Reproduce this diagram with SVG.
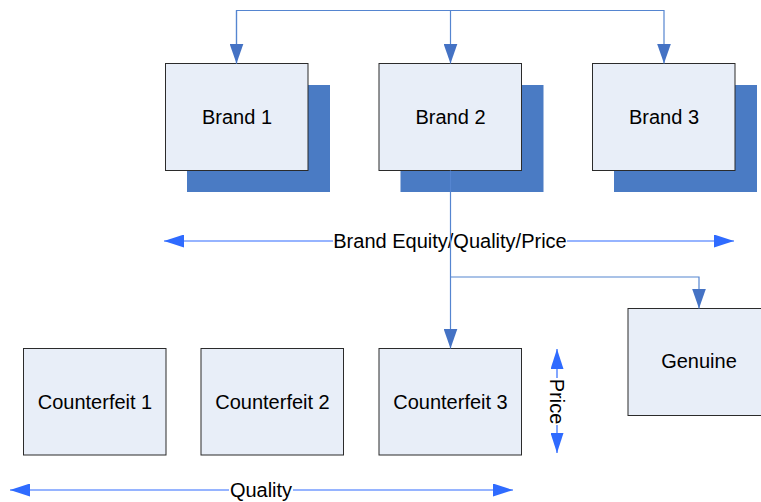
<svg xmlns="http://www.w3.org/2000/svg" width="761" height="502" viewBox="0 0 761 502">
<style>
.box{fill:#E8EEF8;stroke:#2b2b2b;stroke-width:1}
.shadow{fill:#4A7BC4}
.lbl{font-family:"Liberation Sans",Arial,sans-serif;font-size:20px;fill:#000;text-anchor:middle}
.conn{fill:none;stroke:#5585D0;stroke-width:1.2}
.axis{fill:none;stroke:#2F6BFF;stroke-width:1.2}
</style>
<defs>
<marker id="ah" viewBox="0 0 20 14" refX="20" refY="7" markerWidth="20" markerHeight="14" markerUnits="userSpaceOnUse" orient="auto">
<path d="M0,0 L20,7 L0,14 z" fill="#4472C4"/>
</marker>
<marker id="ax" viewBox="0 0 20 13" refX="20" refY="6.5" markerWidth="20" markerHeight="13" markerUnits="userSpaceOnUse" orient="auto-start-reverse">
<path d="M0,0 L20,6.5 L0,13 z" fill="#2F6BFF"/>
</marker>
</defs>
<rect width="761" height="502" fill="#fff"/>
<g id="brand1"><rect class="shadow" x="187" y="85" width="143" height="107"/><rect class="box" x="165.5" y="63.5" width="142.5" height="107"/><text class="lbl" x="237" y="123.5">Brand 1</text></g>
<g id="brand2"><rect class="shadow" x="400.5" y="85" width="143" height="107"/><rect class="box" x="379" y="63.5" width="142.5" height="107"/><text class="lbl" x="450.5" y="123.5">Brand 2</text></g>
<g id="brand3"><rect class="shadow" x="614" y="85" width="143" height="107"/><rect class="box" x="592.5" y="63.5" width="142.5" height="107"/><text class="lbl" x="664" y="123.5">Brand 3</text></g>
<g id="cf1"><rect class="box" x="23.5" y="348.5" width="142.5" height="106.5"/><text class="lbl" x="95" y="408.5">Counterfeit 1</text></g>
<g id="cf2"><rect class="box" x="201" y="348.5" width="142.5" height="106.5"/><text class="lbl" x="272.5" y="408.5">Counterfeit 2</text></g>
<g id="cf3"><rect class="box" x="379" y="348.5" width="142.5" height="106.5"/><text class="lbl" x="450.5" y="408.5">Counterfeit 3</text></g>
<g id="genuine"><rect class="box" x="628" y="308.5" width="143" height="107"/><text class="lbl" x="699" y="367.5">Genuine</text></g>
<g id="axes">
<path class="axis" d="M164,241 H734" marker-start="url(#ax)" marker-end="url(#ax)"/>
<rect x="333" y="229" width="234" height="22" fill="#fff"/>
<text class="lbl" x="450" y="247.5">Brand Equity/Quality/Price</text>
<path class="axis" d="M10,490 H513" marker-start="url(#ax)" marker-end="url(#ax)"/>
<rect x="229" y="479" width="64" height="23" fill="#fff"/>
<text class="lbl" x="261" y="497">Quality</text>
<path class="axis" d="M557,349 V453" marker-start="url(#ax)" marker-end="url(#ax)"/>
<rect x="548" y="378" width="18" height="47" fill="#fff"/>
<text class="lbl" transform="translate(557,401.5) rotate(90)" x="0" y="7">Price</text>
</g>
<g id="connectors">
<path class="conn" d="M236.5,63.5 V10.5 H664 V63.5" marker-end="url(#ah)"/>
<path class="conn" d="M236.5,10.5 V63.5" marker-end="url(#ah)"/>
<path class="conn" d="M450.5,10.5 V63.5" marker-end="url(#ah)"/>
<path class="conn" d="M450.5,170.5 V348.5" marker-end="url(#ah)"/>
<path class="conn" d="M450.5,277 H699 V308.5" marker-end="url(#ah)"/>
</g>
</svg>
